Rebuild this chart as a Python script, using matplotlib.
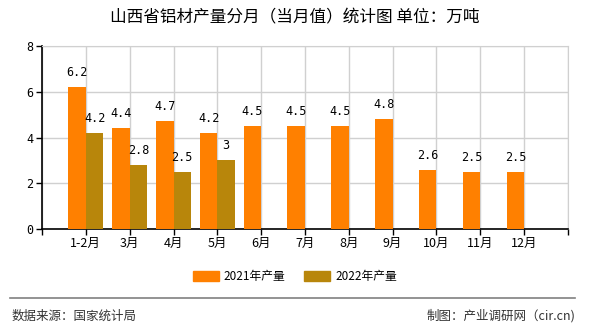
import numpy as np
import matplotlib.pyplot as plt
from matplotlib.patches import Patch

plt.rcParams['font.family'] = ['Noto Sans CJK SC', 'DejaVu Sans']

# 月份和两年的产量（万吨）
months = ['1-2月', '3月', '4月', '5月', '6月', '7月', '8月', '9月', '10月', '11月', '12月']
y2021 = [6.2, 4.4, 4.7, 4.2, 4.5, 4.5, 4.5, 4.8, 2.6, 2.5, 2.5]
y2022 = [4.2, 2.8, 2.5, 3.0]

c2021 = '#FF8000'
c2022 = '#B8860B'

fig = plt.figure(figsize=(5.9, 3.3), dpi=100)
ax = fig.add_axes([0.0712, 0.306, 0.8915, 0.5546])

x = np.arange(1, len(months) + 1)
w = 0.4
ax.bar(x[:len(y2021)] - w / 2, y2021, w, color=c2021, zorder=3)
ax.bar(x[:len(y2022)] + w / 2, y2022, w, color=c2022, zorder=3)

def fmt(v):
    return ('%g' % v)

for xi, v in zip(x, y2021):
    ax.text(xi - w / 2, v + 0.35, fmt(v), ha='center', va='bottom',
            fontsize=8.5, family='DejaVu Sans Mono', zorder=4)
for xi, v in zip(x, y2022):
    ax.text(xi + w / 2, v + 0.35, fmt(v), ha='center', va='bottom',
            fontsize=8.5, family='DejaVu Sans Mono', zorder=4)

ax.set_xlim(0, 12)
ax.set_ylim(0, 8)
ax.set_xticks(np.arange(0, 13))
ax.set_xticklabels([''] + months + [''], fontsize=9)
ax.set_yticks([0, 2, 4, 6, 8])
ax.set_yticklabels(['0', '2', '4', '6', '8'], fontsize=8.5, family='DejaVu Sans Mono')
ax.tick_params(axis='both', direction='out', length=4, width=1, color='black', pad=2)
ax.grid(True, color='#d0d0d0', linewidth=1, zorder=0)
for s in ['top', 'right']:
    ax.spines[s].set_color('#d0d0d0')
for s in ['left', 'bottom']:
    ax.spines[s].set_color('black')
    ax.spines[s].set_linewidth(1.2)

fig.text(0.5, 0.945, '山西省铝材产量分月（当月值）统计图 单位：万吨',
         ha='center', va='center', fontsize=12)

handles = [Patch(color=c2021, label='2021年产量'), Patch(color=c2022, label='2022年产量')]
fig.legend(handles=handles, loc='center', bbox_to_anchor=(0.5, 0.163), ncol=2,
           frameon=False, fontsize=8.5, handlelength=2.2, handleheight=0.9,
           columnspacing=1.6, handletextpad=0.4)

fig.add_artist(plt.Line2D([0.017, 0.975], [0.097, 0.097], color='#808080', linewidth=1.2))
fig.text(0.02, 0.042, '数据来源：国家统计局', ha='left', va='center', fontsize=9, color='#333333')
fig.text(0.975, 0.042, '制图：产业调研网（cir.cn)', ha='right', va='center', fontsize=9, color='#333333')

fig.savefig('out.png', dpi=100)
